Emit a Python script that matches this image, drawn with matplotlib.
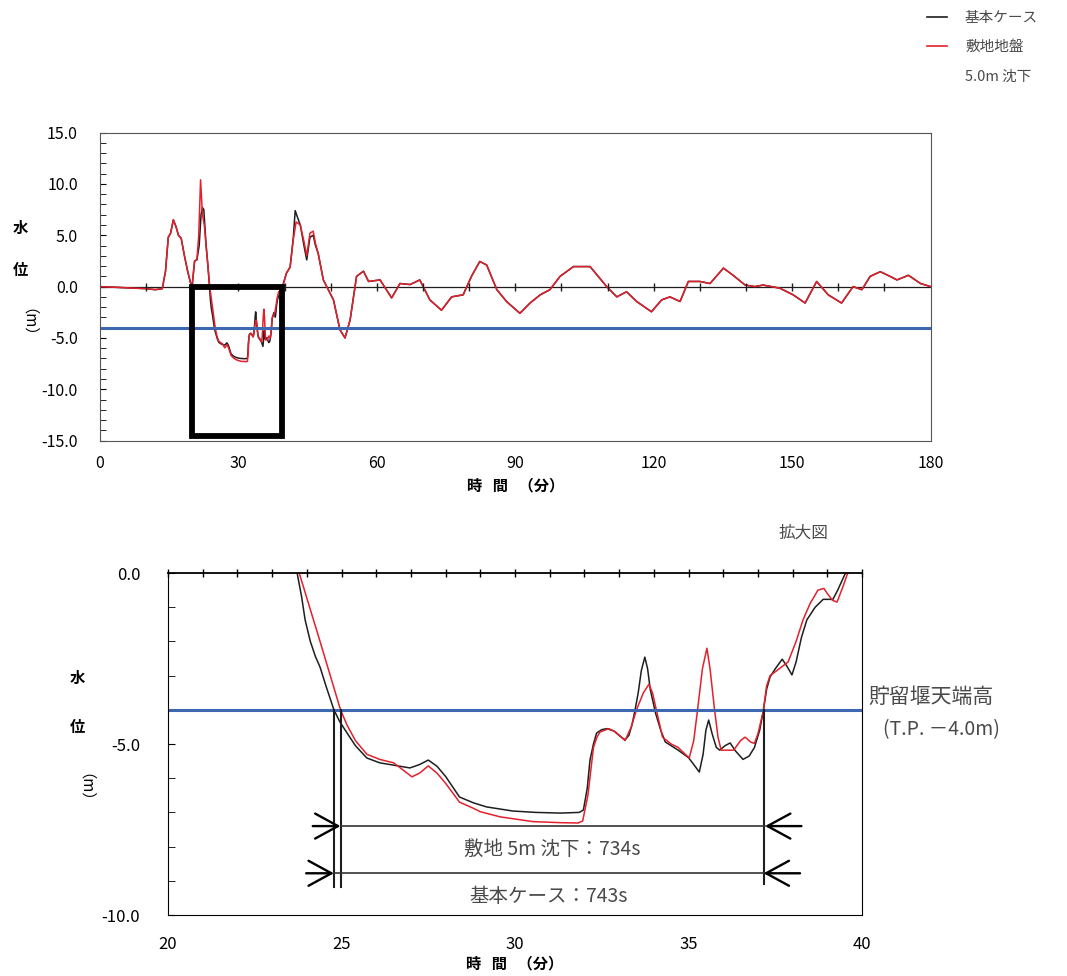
import numpy as np
import matplotlib
matplotlib.use("Agg")
import matplotlib.pyplot as plt
from matplotlib.lines import Line2D
from matplotlib.patches import Rectangle

plt.rcParams['font.family'] = ['Noto Sans CJK JP', 'DejaVu Sans']
plt.rcParams['axes.unicode_minus'] = False

# water level (m) vs time (min); both cases coincide outside 20-48 min
t_head = [0, 5, 10, 12, 13.5, 14.2, 14.8, 15.3, 15.9, 16.5, 17.0, 17.6, 18.3, 19.0, 19.6, 20.0]
h_head = [0, -0.1, -0.2, -0.3, -0.2, 1.5, 4.8, 5.2, 6.5, 5.8, 5.0, 4.7, 3.0, 1.5, 0.4, 0.2]

t_base = [20.5, 21.0, 21.5, 21.9, 22.2, 22.5, 23.0, 23.4, 23.72, 23.85, 23.95, 24.1, 24.25,
          24.38, 24.55, 24.78, 24.95, 25.16, 25.4, 25.73, 26.1, 26.5, 26.97, 27.25, 27.5, 27.75,
          28.0, 28.4, 28.8, 29.18, 29.94, 30.6, 31.3, 31.85, 31.97, 32.08, 32.16, 32.26, 32.35,
          32.5, 32.65, 32.85, 33.0, 33.17, 33.28, 33.37, 33.46, 33.55, 33.64, 33.74, 33.82, 33.9,
          34.05, 34.2, 34.33, 34.5, 34.7, 35.0, 35.15, 35.31, 35.42, 35.5, 35.58, 35.68, 35.8,
          35.9, 36.05, 36.2, 36.35, 36.57, 36.75, 36.9, 37.05, 37.15, 37.25, 37.35, 37.5, 37.7,
          37.85, 37.98, 38.1, 38.25, 38.41, 38.65, 38.88, 39.16, 39.3, 39.5,
          40.4, 41.2, 41.9, 42.3, 42.6, 43.4, 44.2, 44.8, 45.5, 46.2, 46.7, 47.3]
h_base = [2.5, 2.6, 4.0, 7.0, 7.7, 7.5, 4.0, 2.0, 0.0, -0.7, -1.37, -2.0, -2.45,
          -2.75, -3.3, -4.0, -4.35, -4.68, -5.05, -5.41, -5.55, -5.62, -5.7, -5.6, -5.47, -5.65,
          -5.95, -6.55, -6.72, -6.84, -6.96, -7.0, -7.02, -7.0, -6.93, -6.3, -5.47, -5.0, -4.68,
          -4.58, -4.55, -4.62, -4.75, -4.88, -4.75, -4.44, -4.0, -3.5, -2.85, -2.46, -2.8, -3.42,
          -4.1, -4.6, -4.94, -5.05, -5.18, -5.4, -5.6, -5.82, -5.3, -4.6, -4.3, -4.7, -5.1,
          -5.18, -5.05, -4.97, -5.2, -5.45, -5.35, -5.1, -4.6, -4.06, -3.4, -3.04, -2.8, -2.52,
          -2.75, -2.98, -2.6, -1.9, -1.37, -1.0, -0.77, -0.77, -0.5, -0.05,
          1.3, 1.9, 4.8, 7.4, 7.0, 6.0, 4.0, 2.6, 4.8, 5.0, 4.0, 3.2]

t_site = [20.5, 21.0, 21.4, 21.8, 22.2, 22.6, 23.0, 23.4, 23.78, 24.38, 24.97, 25.16, 25.4,
          25.73, 26.1, 26.5, 27.03, 27.25, 27.5, 27.75, 28.0, 28.4, 28.8, 29.0, 29.57, 30.52,
          31.3, 31.82, 31.95, 32.1, 32.26, 32.36, 32.45, 32.7, 32.9, 33.17, 33.35, 33.5, 33.7,
          33.86, 33.96, 34.05, 34.25, 34.5, 34.7, 35.02, 35.15, 35.26, 35.4, 35.53, 35.62, 35.75,
          35.85, 35.94, 36.3, 36.5, 36.63, 36.8, 36.9, 37.0, 37.15, 37.25, 37.35, 37.55, 37.87,
          38.1, 38.3, 38.5, 38.73, 38.9, 39.0, 39.15, 39.28, 39.45, 39.57,
          40.4, 41.2, 41.9, 42.5, 43.4, 44.2, 44.8, 45.5, 46.2, 46.7, 47.3]
h_site = [2.5, 2.6, 5.0, 10.4, 7.0, 6.0, 4.0, 2.0, 0.0, -2.0, -4.0, -4.45, -4.9,
          -5.3, -5.45, -5.55, -5.96, -5.85, -5.64, -5.85, -6.15, -6.7, -6.88, -6.98, -7.13, -7.27,
          -7.3, -7.31, -7.25, -6.5, -5.1, -4.8, -4.65, -4.55, -4.65, -4.9, -4.5, -4.0, -3.5,
          -3.25, -3.5, -3.9, -4.8, -5.0, -5.1, -5.41, -4.9, -4.0, -2.8, -2.2, -2.8, -4.0,
          -4.8, -5.18, -5.18, -4.9, -4.8, -4.95, -4.98, -4.7, -4.06, -3.3, -3.0, -2.85, -2.6,
          -2.0, -1.37, -0.9, -0.5, -0.45, -0.6, -0.8, -0.85, -0.4, -0.05,
          1.3, 1.9, 4.6, 6.3, 6.0, 4.4, 3.0, 5.2, 5.4, 4.2, 3.2]

t_tail = [48.4, 50.6, 52.0, 53.1, 54.2, 55.6, 57.1, 58.2, 60.7, 63.2, 65.0, 67.2, 69.3, 71.5,
          74.0, 76.2, 78.7, 80.5, 82.3, 83.8, 86.0, 88.1, 91.0, 93.2, 95.4, 97.5, 99.7, 102.6,
          106.2, 109.8, 112.0, 114.1, 116.3, 119.5, 121.7, 123.5, 125.7, 127.5, 130.0, 132.2,
          135.1, 137.2, 139.8, 141.9, 143.7, 147.3, 150.2, 152.8, 155.3, 157.8, 160.7, 163.2,
          165.1, 166.9, 169.1, 171.2, 172.7, 175.2, 177.8, 180]
h_tail = [0.65, -1.3, -4.2, -5.0, -3.25, 1.0, 1.5, 0.5, 0.65, -1.1, 0.3, 0.2, 0.65, -1.3,
          -2.3, -1.0, -0.8, 1.0, 2.45, 2.1, -0.3, -1.45, -2.6, -1.6, -0.8, -0.3, 1.0, 1.95,
          1.95, 0.0, -1.0, -0.5, -1.45, -2.45, -1.3, -1.0, -1.45, 0.5, 0.5, 0.3,
          1.8, 1.1, 0.15, 0.0, 0.15, -0.15, -0.8, -1.6, 0.5, -0.8, -1.6, 0.0,
          -0.3, 1.0, 1.45, 1.0, 0.65, 1.1, 0.3, 0.0]

weir_top = -4.0            # 貯留堰天端高 T.P.-4.0m
window = (20, 39.5)        # 拡大図の範囲
# time below the weir top: start (min) and duration (s)
start_base, dur_base = 24.78, 743
start_site, dur_site = 24.97, 734

tb = np.concatenate([t_head, t_base, t_tail])
hb = np.concatenate([h_head, h_base, h_tail])
ts = np.concatenate([t_head, t_site, t_tail])
hs = np.concatenate([h_head, h_site, h_tail])

BLACK = '#1e1e1e'
RED = '#e3202c'
BLUE = '#3d67b1'
GRAY = '#4a4a4a'

fig = plt.figure(figsize=(10.67, 9.76), dpi=100)

# ---- full record ----
ax1 = fig.add_axes([0.0937, 0.5485, 0.7785, 0.3157])
ax1.plot(tb, hb, color=BLACK, lw=1.1)
ax1.plot(ts, hs, color=RED, lw=1.1)
ax1.axhline(0, color=BLACK, lw=0.9, zorder=1)
ax1.plot(np.arange(10, 180, 10), np.zeros(17), '|', color=BLACK, ms=6, mew=1)
ax1.axhline(weir_top, color=BLUE, lw=2.2)
ax1.add_patch(Rectangle((window[0], -14.5), window[1] - window[0], 14.5,
                        fill=False, ec='black', lw=4.2, zorder=5))
ax1.set_xlim(0, 180)
ax1.set_ylim(-15, 15)
ax1.set_xticks(np.arange(0, 181, 30))
ax1.set_yticks(np.arange(-15, 16, 5))
ax1.set_yticklabels(['%.1f' % v for v in np.arange(-15, 16, 5)])
ax1.set_yticks(np.arange(-15, 16, 1), minor=True)
ax1.tick_params(axis='x', length=0, pad=10, labelsize=11.5)
ax1.tick_params(axis='y', which='both', direction='in', length=4, pad=16, labelsize=11.5)
for s in ax1.spines.values():
    s.set_color('#555555')
ax1.set_xlabel('時   間   （分）', fontsize=11, fontweight='bold', labelpad=4)

fig.text(20 / 1067, 1 - 228 / 976, '水', fontsize=11, fontweight='bold', ha='center', va='center')
fig.text(20 / 1067, 1 - 270 / 976, '位', fontsize=11, fontweight='bold', ha='center', va='center')
fig.text(20 / 1067, 1 - 330 / 976, '（m）', fontsize=11, rotation=270, ha='center', va='center')

# ---- legend ----
fig.add_artist(Line2D([927 / 1067, 947 / 1067], [1 - 17 / 976] * 2, color=BLACK, lw=1.2))
fig.add_artist(Line2D([927 / 1067, 947 / 1067], [1 - 46 / 976] * 2, color=RED, lw=1.2))
fig.text(965 / 1067, 1 - 18 / 976, '基本ケース', fontsize=10.5, color=GRAY, va='center')
fig.text(965 / 1067, 1 - 47 / 976, '敷地地盤', fontsize=10.5, color=GRAY, va='center')
fig.text(965 / 1067, 1 - 77 / 976, '5.0m 沈下', fontsize=10.5, color=GRAY, va='center')

# ---- enlarged view ----
ax2 = fig.add_axes([0.1575, 0.0625, 0.6504, 0.3504])
ax2.plot(tb, hb, color=BLACK, lw=1.1)
ax2.plot(ts, hs, color=RED, lw=1.1)
ax2.axhline(weir_top, color=BLUE, lw=2.2)
ax2.set_xlim(20, 40)
ax2.set_ylim(-10, 0)
ax2.set_xticks(np.arange(20, 41, 5))
ax2.set_xticks(np.arange(20, 41, 1), minor=True)
ax2.set_yticks([-10, -5, 0])
ax2.set_yticklabels(['-10.0', '-5.0', '0.0'])
ax2.set_yticks(np.arange(-10, 1, 1), minor=True)
ax2.tick_params(axis='x', which='both', bottom=False, top=True, labelbottom=True,
                direction='inout', length=6, width=1, pad=12, labelsize=12)
ax2.tick_params(axis='y', which='both', direction='in', length=5, pad=20, labelsize=12)
ax2.spines['top'].set_linewidth(1.3)
ax2.set_xlabel('時   間   （分）', fontsize=11, fontweight='bold', labelpad=2)

fig.text(77 / 1067, 1 - 678 / 976, '水', fontsize=11, fontweight='bold', ha='center', va='center')
fig.text(77 / 1067, 1 - 727 / 976, '位', fontsize=11, fontweight='bold', ha='center', va='center')
fig.text(77 / 1067, 1 - 795 / 976, '（m）', fontsize=11, rotation=270, ha='center', va='center')
fig.text(803 / 1067, 1 - 533 / 976, '拡大図', fontsize=12, color=GRAY, ha='center', va='center')

ax2.text(40.17, -3.62, '貯留堰天端高', fontsize=15, color=GRAY, va='center', clip_on=False)
ax2.text(40.6, -4.58, '(T.P. －4.0m)', fontsize=14, color=GRAY, va='center', clip_on=False)

end_base = start_base + dur_base / 60
end_site = start_site + dur_site / 60
for x0 in (start_base, start_site):
    ax2.plot([x0, x0], [weir_top, -9.17], color=BLACK, lw=1.5)
ax2.plot([end_base, end_base], [weir_top, -9.1], color=BLACK, lw=1.5)

for x0, x1, y, label in [(start_site, end_site, -7.4, '敷地 5m 沈下：%ds' % dur_site),
                         (start_base, end_base, -8.78, '基本ケース：%ds' % dur_base)]:
    ax2.plot([x0, x1], [y, y], color='#333333', lw=1.2)
    ax2.annotate('', xy=(x0, y), xytext=(x0 - 0.8, y), annotation_clip=False,
                 arrowprops=dict(arrowstyle='->,head_length=0.55,head_width=0.3',
                                 lw=1.7, color='black', mutation_scale=30,
                                 shrinkA=0, shrinkB=0))
    ax2.annotate('', xy=(x1, y), xytext=(x1 + 1.05, y), annotation_clip=False,
                 arrowprops=dict(arrowstyle='->,head_length=0.55,head_width=0.3',
                                 lw=1.7, color='black', mutation_scale=30,
                                 shrinkA=0, shrinkB=0))
    ax2.text((x0 + x1) / 2, y - 0.68, label, fontsize=14, color=GRAY, ha='center', va='center')

fig.savefig('out.png', dpi=100)
